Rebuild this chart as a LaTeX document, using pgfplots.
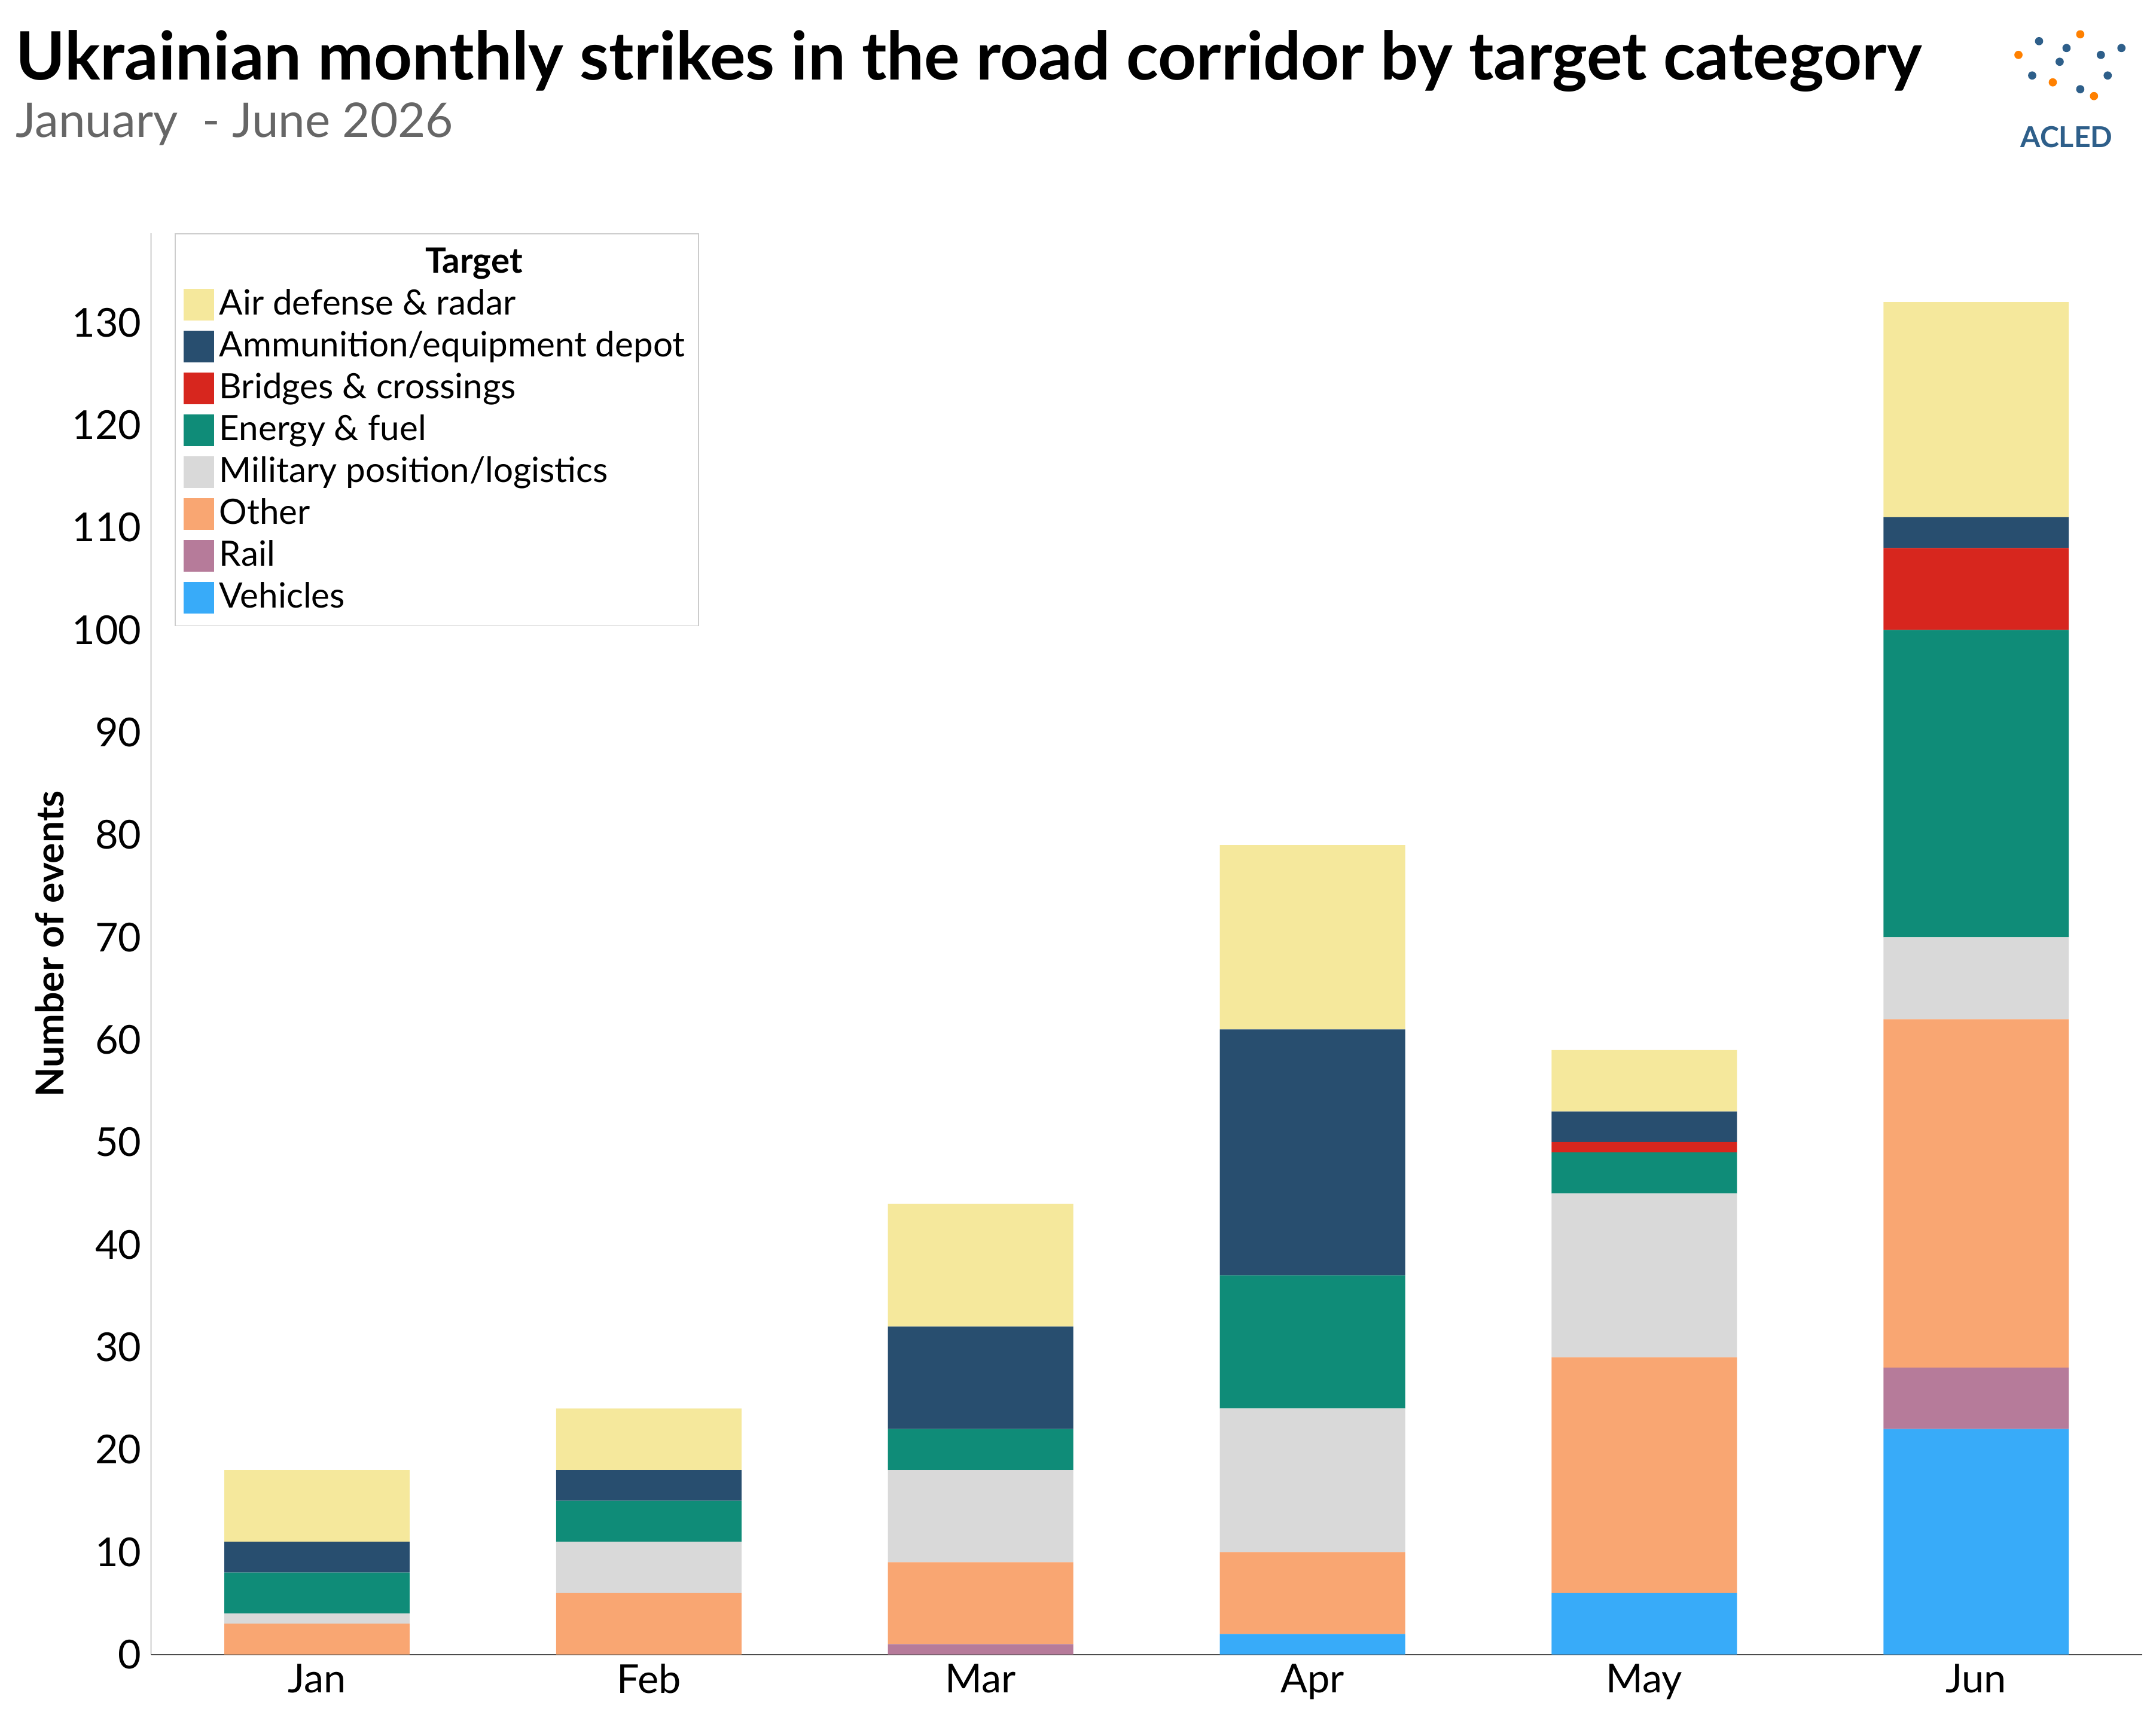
\documentclass[border=0pt]{standalone}
\usepackage{fontspec}
\setmainfont{Lato}
\usepackage{pgfplots}
\pgfplotsset{compat=1.18}
\definecolor{cAir}{HTML}{F5E89C}
\definecolor{cAmmo}{HTML}{284E6F}
\definecolor{cBridge}{HTML}{D7261E}
\definecolor{cEnergy}{HTML}{0F8C78}
\definecolor{cMil}{HTML}{D9D9D9}
\definecolor{cOther}{HTML}{F9A672}
\definecolor{cRail}{HTML}{B67B9A}
\definecolor{cVeh}{HTML}{38ABF9}
\definecolor{cLogo}{HTML}{2E5F8A}
\begin{document}
\begin{tikzpicture}
\useasboundingbox (0,0) rectangle (784pt,632pt);
\begin{scope}[x=0.5pt,y=-0.5pt,shift={(0,632pt)}]
\node[anchor=base west,font=\fontsize{24.3}{27}\selectfont\bfseries,inner sep=0] at (11,58) {Ukrainian monthly strikes in the road corridor by target category};
\node[anchor=base west,font=\fontsize{17.4}{20}\selectfont,text=black!60,inner sep=0] at (11,100) {January\ \ - June 2026};
\node[font=\fontsize{10.5}{12}\selectfont\bfseries,text=cLogo] at (1505,100) {ACLED};
\foreach \p/\c in {{1470,40}/orange,{1485,30}/cLogo,{1500,45}/cLogo,{1515,25}/orange,{1530,40}/cLogo,{1495,60}/orange,{1515,65}/cLogo,{1535,55}/cLogo,{1480,55}/cLogo,{1505,35}/cLogo,{1525,70}/orange,{1545,35}/cLogo}
  \fill[\c] (\p) circle (3);
\end{scope}
\begin{axis}[at={(55pt,29.5pt)},anchor=south west,
  width=725pt,height=517.5pt,scale only axis,
  bar width=67.5pt,
  ybar stacked,
  xmin=-0.5,xmax=5.5,ymin=0,ymax=138.7,
  axis x line*=bottom, axis y line*=left,
  xtick={0,...,5},xticklabels={Jan,Feb,Mar,Apr,May,Jun},
  major x tick style={draw=none},
  extra x ticks={-0.5,0.5,1.5,2.5,3.5,4.5,5.5},extra x tick labels={},
  extra x tick style={major tick length=4pt,tick style={draw=black!60},xtick align=outside},
  ytick={0,10,...,130},
  ytick style={draw=none},
  tick label style={font=\fontsize{14.5}{16}\selectfont},
  /pgf/number format/assume math mode=true,
  ylabel={Number of events},
  ylabel style={font=\fontsize{14}{16}\selectfont\bfseries,yshift=-4pt},
  axis line style={black!70},
  legend style={at={(0.012,1)},anchor=north west,draw=black!20,
    font=\fontsize{12.7}{15.5}\selectfont,row sep=0.4pt,inner sep=3pt},
  legend cell align=left,
  reverse legend,
  legend image code/.code={\fill[#1] (0,-0.6em) rectangle (1.1em,0.55em);},
]
\addplot[fill=cVeh,draw=none] coordinates {(0,0)(1,0)(2,0)(3,2)(4,6)(5,22)};
\addlegendentry{Vehicles}
\addplot[fill=cRail,draw=none] coordinates {(0,0)(1,0)(2,1)(3,0)(4,0)(5,6)};
\addlegendentry{Rail}
\addplot[fill=cOther,draw=none] coordinates {(0,3)(1,6)(2,8)(3,8)(4,23)(5,34)};
\addlegendentry{Other}
\addplot[fill=cMil,draw=none] coordinates {(0,1)(1,5)(2,9)(3,14)(4,16)(5,8)};
\addlegendentry{Military position/logistics}
\addplot[fill=cEnergy,draw=none] coordinates {(0,4)(1,4)(2,4)(3,13)(4,4)(5,30)};
\addlegendentry{Energy \& fuel}
\addplot[fill=cBridge,draw=none] coordinates {(0,0)(1,0)(2,0)(3,0)(4,1)(5,8)};
\addlegendentry{Bridges \& crossings}
\addplot[fill=cAmmo,draw=none] coordinates {(0,3)(1,3)(2,10)(3,24)(4,3)(5,3)};
\addlegendentry{Ammunition/equipment depot}
\addplot[fill=cAir,draw=none] coordinates {(0,7)(1,6)(2,12)(3,18)(4,6)(5,21)};
\addlegendentry{Air defense \& radar}
\addlegendimage{empty legend}
\addlegendentry{\hspace*{75pt}\textbf{Target}}
\end{axis}
\end{tikzpicture}
\end{document}
